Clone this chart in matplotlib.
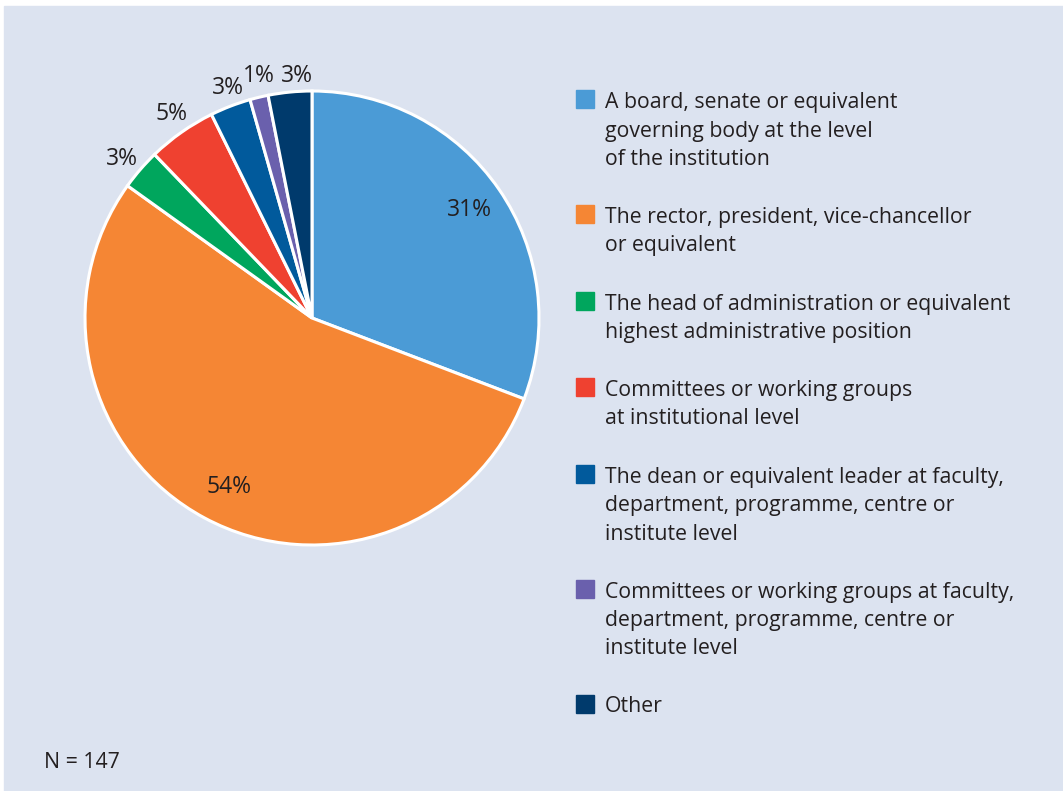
import numpy as np
import matplotlib
matplotlib.use('Agg')
import matplotlib.pyplot as plt
from matplotlib.patches import Rectangle

plt.rcParams['font.family'] = ['Open Sans', 'DejaVu Sans']

# 数据
categories = [
    'A board, senate or equivalent\ngoverning body at the level\nof the institution',
    'The rector, president, vice-chancellor\nor equivalent',
    'The head of administration or equivalent\nhighest administrative position',
    'Committees or working groups\nat institutional level',
    'The dean or equivalent leader at faculty,\ndepartment, programme, centre or\ninstitute level',
    'Committees or working groups at faculty,\ndepartment, programme, centre or\ninstitute level',
    'Other',
]
shares = [30.8, 54.1, 2.9, 4.9, 2.9, 1.3, 3.1]
pct_labels = ['31%', '54%', '3%', '5%', '3%', '1%', '3%']
colors = ['#4b9bd6', '#f58634', '#00a65d', '#ef4130', '#015a9c', '#6a60ad', '#003a6c']
n_total = 147

W, H = 1063, 791
bg = '#dce3f0'
txt_c = '#231f20'
fig = plt.figure(figsize=(W / 100, H / 100), dpi=100)
fig.patch.set_facecolor('white')
ax = fig.add_axes([0, 0, 1, 1])
ax.add_patch(Rectangle((4, 0), W, H - 6, color=bg, zorder=0))

cx, cy, r = 312, H - 318, 227
wedges, _ = ax.pie(shares, colors=colors, startangle=90, counterclock=False,
                   center=(cx, cy), radius=r, frame=True,
                   wedgeprops=dict(edgecolor='white', linewidth=2.2))
ax.set_xlim(0, W)
ax.set_ylim(0, H)
ax.set_aspect('equal')
ax.axis('off')

# 百分比标签
dist = [0.84, 0.83, 1.09, 1.09, 1.08, 1.09, 1.07]
nudge = [0, 2, 1, -0.5, -1, -1, -2]
for w, lab, d, nd in zip(wedges, pct_labels, dist, nudge):
    ang = np.deg2rad((w.theta1 + w.theta2) / 2 + nd)
    ax.text(cx + d * r * np.cos(ang), cy + d * r * np.sin(ang), lab,
            ha='center', va='center', fontsize=16.5, color=txt_c)

# 图例
base = 108
step = 28.5
for lab, c in zip(categories, colors):
    nl = lab.count('\n')
    ax.add_patch(Rectangle((576, H - base), 18, 18, color=c))
    # 多行文本的 baseline 对齐最后一行
    ax.text(605, H - (base + nl * step), lab, ha='left', va='baseline',
            fontsize=15.3, color=txt_c, linespacing=1.46)
    base += nl * step + 58

ax.text(44, H - 768, 'N = ' + str(n_total), ha='left', va='baseline',
        fontsize=15.3, color=txt_c)

fig.savefig('out.png', dpi=100, facecolor='white')
